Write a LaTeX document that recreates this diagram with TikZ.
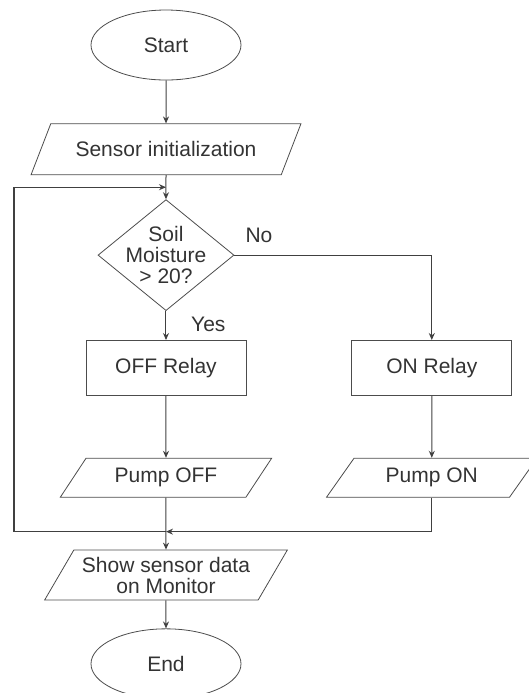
\documentclass[tikz,border=0pt]{standalone}
\usepackage{fontspec}
\setmainfont{Liberation Sans}
\usetikzlibrary{positioning, shapes.geometric, arrows.meta}

\begin{document}
\begin{tikzpicture}[
        font=\fontsize{10.5}{10.5}\selectfont,
        every node/.style={text=black!80},
        terminal/.style={ellipse, draw=black!70, minimum width=75pt, minimum height=35pt},
        io/.style={trapezium, trapezium left angle=60, trapezium right angle=120, trapezium stretches=true, draw=black!70, align=center},
        process/.style={rectangle, draw=black!70, minimum width=80pt, minimum height=27.5pt},
        decision/.style={diamond, draw=black!70, aspect=1.225, inner sep=-2.5pt, minimum width=68pt, minimum height=55.5pt, align=center},
        arrow/.style={-{Stealth[length=3.5pt, width=3pt]}, draw=black!75, line width=0.5pt}
    ]
    \useasboundingbox (0,0) rectangle (264.5pt,-346.5pt);

    % Nodes
    \node[terminal] (start) at (83pt,-22.5pt) {Start};
    \node[io, minimum width=135pt, minimum height=25.5pt, below=21.5pt of start] (sensor) {Sensor initialization};
    \node[decision, below=12pt of sensor] (moist) {Soil\\Moisture\\> 20?};
    \node[process, below=14.5pt of moist] (offrelay) {OFF Relay};
    \node[process, right=52.5pt of offrelay] (onrelay) {ON Relay};
    \node[io, minimum width=106pt, minimum height=19.5pt, below=31pt of offrelay] (pumpoff) {Pump OFF};
    \node[io, minimum width=106pt, minimum height=19.5pt, below=31pt of onrelay] (pumpon) {Pump ON};
    \node[io, minimum width=121.5pt, minimum height=25pt, below=26pt of pumpoff] (show) {Show sensor data\\on Monitor};
    \node[terminal, below=14pt of show] (end) {End};

    % Junctions
    \coordinate[below=6pt of sensor] (join);
    \coordinate[below=17pt of pumpoff] (merge);
    \coordinate (edge) at (7pt,0);

    % Connections
    \draw[arrow] (start) -- (sensor);
    \draw[arrow] (sensor) -- (moist);
    \draw[arrow] (moist) -- node[right=9pt, pos=0.45] {Yes} (offrelay);
    \draw[arrow] (moist.east) -| node[above right, pos=0.01, yshift=2.5pt] {No} (onrelay);
    \draw[arrow] (offrelay) -- (pumpoff);
    \draw[arrow] (onrelay) -- (pumpon);
    \draw[arrow] (pumpon) |- (merge);
    \draw[arrow] (merge) -- (edge |- merge) -- (edge |- join) -- (join);
    \draw[arrow] (pumpoff) -- (show);
    \draw[arrow] (show) -- (end);

\end{tikzpicture}
\end{document}
